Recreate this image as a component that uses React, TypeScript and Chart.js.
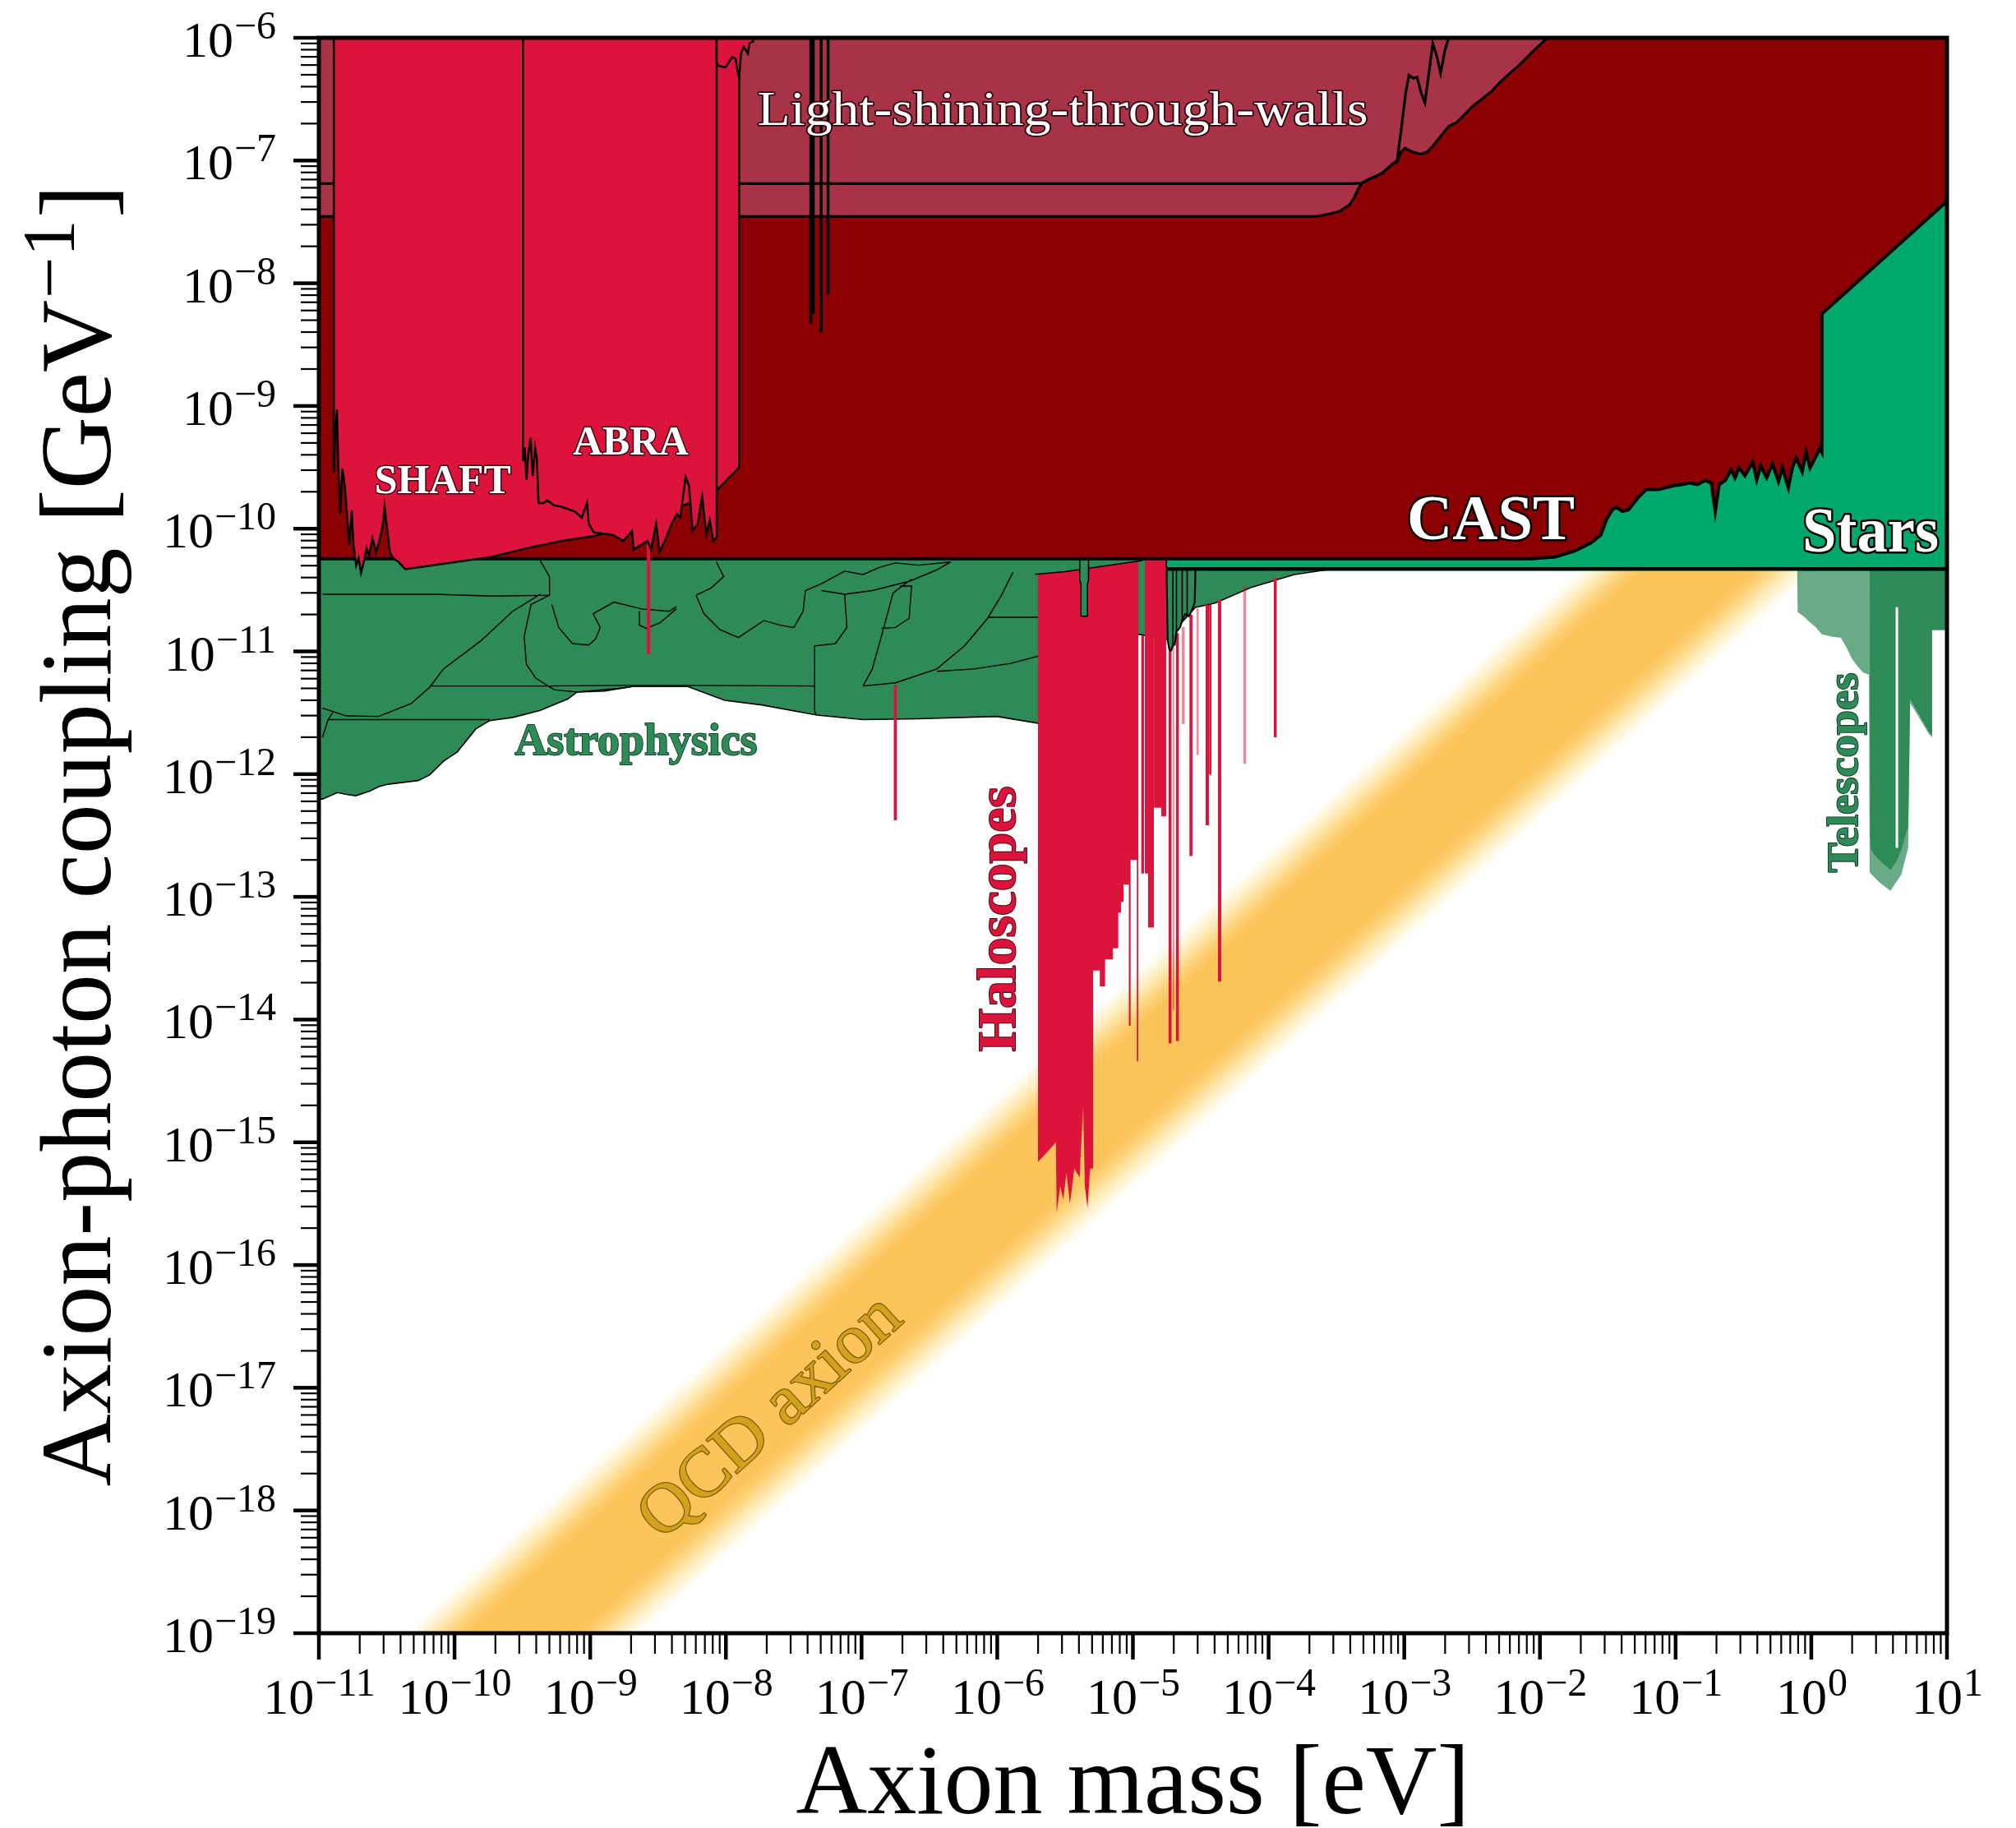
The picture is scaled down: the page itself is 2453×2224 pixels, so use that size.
import { useEffect, useRef } from 'react';
import { Chart, registerables } from 'chart.js';

Chart.register(...registerables);

type Pt = [number, number]; // [log10(mass / eV), log10(coupling / GeV^-1)]

const SERIF = '"Liberation Serif", "DejaVu Serif", serif';

// ---------------- axes ----------------
const massDecades = [-11, -10, -9, -8, -7, -6, -5, -4, -3, -2, -1, 0, 1];
const couplingDecades = [-19, -18, -17, -16, -15, -14, -13, -12, -11, -10, -9, -8, -7, -6];
const minorMultipliers = [2, 3, 4, 5, 6, 7, 8, 9];
const xAxisTitle = 'Axion mass [eV]';
const yAxisTitle = 'Axion-photon coupling [GeV';
const yAxisTitleExponent = '\u22121';
const yAxisTitleClose = ']';

// ---------------- QCD axion band (edges, log10 values) ----------------
const qcdUpperEdge: Pt[] = [[-11.5, -20.13], [1.5, -7.13]];
const qcdLowerEdge: Pt[] = [[-11.5, -21.87], [1.5, -8.87]];

// ---------------- Astrophysics (union envelope + internal outlines) ----------------
const astroBoundary: Pt[] = [
  [-11.05, -12.21], [-10.973, -12.203], [-10.864, -12.15], [-10.796, -12.165], [-10.728, -12.176],
  [-10.626, -12.139], [-10.558, -12.101], [-10.49, -12.082], [-10.269, -12.052], [-10.184, -12.007],
  [-10.082, -11.895], [-9.98, -11.819], [-9.844, -11.632], [-9.742, -11.564], [-9.572, -11.538],
  [-9.368, -11.481], [-9.164, -11.387], [-9.097, -11.331], [-8.893, -11.323], [-8.689, -11.286],
  [-8.281, -11.286], [-8.009, -11.398], [-7.737, -11.436], [-7.329, -11.519], [-6.989, -11.556],
  [-6.581, -11.549], [-6.003, -11.53], [-5.701, -11.585], [-5.3, -11.3], [-4.962, -10.86],
  [-4.75, -10.9], [-4.54, -10.642], [-4.394, -10.606], [-4.134, -10.48], [-3.81, -10.373],
  [-3.583, -10.337], [-3.45, -10.33],
];
const astroOutlines: Pt[][] = [
  [[-10.973, -10.534], [-10.15, -10.534], [-9.708, -10.549], [-9.3, -10.542]],
  [[-10.184, -11.282], [-9.3, -11.282], [-8.621, -11.275], [-7.346, -11.282]],
  [[-10.932, -11.556], [-10.32, -11.556], [-9.742, -11.556]],
  [[-10.973, -11.7], [-10.932, -11.556], [-10.9, -11.5]],
  [[-10.973, -11.462], [-10.796, -11.526], [-10.558, -11.53], [-10.32, -11.425], [-10.184, -11.293],
    [-10.082, -11.143], [-9.81, -10.917], [-9.572, -10.673], [-9.368, -10.534]],
  [[-9.368, -10.26], [-9.3, -10.391], [-9.3, -10.542], [-9.436, -10.617], [-9.487, -10.88],
    [-9.47, -11.105], [-9.402, -11.218], [-9.266, -11.312], [-9.097, -11.331], [-8.791, -11.301], [-8.689, -11.286]],
  [[-9.283, -10.617], [-9.232, -10.805], [-9.131, -10.936], [-9.012, -10.948], [-8.961, -10.899],
    [-8.927, -10.805], [-8.978, -10.692], [-8.825, -10.598], [-8.621, -10.654], [-8.417, -10.673], [-8.366, -10.636]],
  [[-8.638, -10.673], [-8.638, -10.786], [-8.587, -10.812], [-8.485, -10.767], [-8.366, -10.654]],
  [[-8.22, -10.542], [-8.162, -10.692], [-8.043, -10.824], [-7.907, -10.887], [-7.72, -10.748],
    [-7.601, -10.786], [-7.499, -10.805], [-7.431, -10.673], [-7.414, -10.504], [-7.295, -10.448]],
  [[-8.07, -10.271], [-8.016, -10.391], [-8.111, -10.485], [-8.22, -10.542]],
  [[-7.295, -10.448], [-7.125, -10.346], [-6.989, -10.373], [-6.87, -10.316], [-6.751, -10.279], [-6.581, -10.297], [-6.343, -10.271]],
  [[-7.295, -10.504], [-7.125, -10.534], [-6.921, -10.504], [-6.649, -10.429], [-6.445, -10.335], [-6.343, -10.271]],
  [[-7.125, -10.534], [-7.108, -10.805], [-7.193, -10.936], [-7.346, -10.955], [-7.346, -11.481], [-7.336, -11.519]],
  [[-6.632, -10.41], [-6.768, -10.523], [-6.836, -10.805], [-6.921, -11.143], [-6.989, -11.282]],
  [[-6.717, -10.467], [-6.632, -10.467], [-6.649, -10.73], [-6.751, -10.805], [-6.853, -10.812]],
  [[-5.884, -10.354], [-5.969, -10.542], [-6.071, -10.73], [-6.241, -10.955], [-6.445, -11.143], [-6.751, -11.256], [-6.989, -11.282]],
  [[-6.071, -10.722], [-5.67, -10.722]],
  [[-5.67, -11.03], [-5.901, -11.098], [-6.173, -11.143], [-6.445, -11.162]],
];

// ---------------- Haloscopes ----------------
const haloMainBoundary: Pt[] = [
  [-5.701, -15.161], [-5.64, -15.09], [-5.595, -15.035], [-5.568, -15.0], [-5.562, -15.573], [-5.536, -15.358],
  [-5.513, -15.466], [-5.49, -15.25], [-5.464, -15.502], [-5.432, -15.215], [-5.393, -15.287], [-5.367, -14.713],
  [-5.354, -15.358], [-5.335, -15.537], [-5.315, -15.215], [-5.293, -15.215], [-5.293, -13.6], [-5.244, -13.6],
  [-5.244, -13.73], [-5.205, -13.73], [-5.205, -13.51], [-5.147, -13.51], [-5.147, -13.42], [-5.108, -13.42],
  [-5.108, -13.13], [-5.088, -13.13], [-5.088, -13.04], [-5.069, -13.04], [-5.069, -12.9], [-5.03, -12.9],
  [-5.03, -14.05], [-5.017, -14.05], [-5.017, -12.7], [-4.971, -12.7], [-4.971, -14.34], [-4.96, -14.34],
];
// [left lm, right lm, bottom lg, top lg, opacity]
const haloBars: [number, number, number, number, number][] = [
  [-4.94, -4.918, -12.81, -10.87, 1],
  [-4.912, -4.888, -12.81, -10.26, 1],
  [-4.888, -4.845, -13.25, -10.26, 1],
  [-4.845, -4.791, -12.274, -10.26, 1],
  [-4.791, -4.755, -12.345, -10.26, 1],
  [-4.738, -4.714, -14.192, -10.9, 1],
  [-4.708, -4.695, -13.924, -10.9, 0.5],
  [-4.683, -4.66, -14.174, -10.85, 1],
  [-4.641, -4.617, -11.592, -10.8, 0.5],
  [-4.584, -4.561, -12.668, -10.7, 1],
  [-4.532, -4.514, -11.843, -10.65, 0.5],
  [-4.465, -4.439, -12.417, -10.62, 1],
  [-4.439, -4.42, -12.005, -10.62, 1],
  [-4.374, -4.349, -13.69, -10.58, 1],
  [-4.188, -4.164, -11.915, -10.47, 0.5],
  [-3.963, -3.939, -11.7, -10.4, 1],
  [-6.764, -6.738, -12.376, -11.275, 1],
];
const haloLateBar: [number, number, number, number, number] = [-8.584, -8.556, -11.023, -9.9, 1];
const shaftBoundary: Pt[] = [
  [-10.89, -5.9], [-10.89, -9.54], [-10.88, -9.23], [-10.867, -9.03], [-10.857, -9.48], [-10.842, -9.88],
  [-10.827, -9.51], [-10.809, -9.65], [-10.791, -9.91], [-10.776, -10.13], [-10.758, -9.85], [-10.745, -10.13],
  [-10.725, -10.3], [-10.707, -10.24], [-10.689, -10.36], [-10.669, -10.27], [-10.648, -10.16], [-10.63, -10.22],
  [-10.605, -10.08], [-10.579, -10.19], [-10.554, -10.1], [-10.528, -9.96], [-10.516, -9.82], [-10.495, -10.02],
  [-10.477, -10.19], [-10.452, -10.24], [-10.414, -10.27], [-10.363, -10.33], [-10.235, -10.31], [-9.98, -10.27],
  [-9.725, -10.23], [-9.47, -10.16], [-9.215, -10.1], [-8.973, -10.06], [-8.45, -9.88], [-8.068, -9.69],
  [-7.991, -9.6], [-7.902, -9.5], [-7.902, -5.9],
];
const abraBoundary: Pt[] = [
  [-9.496, -5.9], [-9.496, -9.45], [-9.483, -9.34], [-9.47, -9.6], [-9.457, -9.4], [-9.44, -9.26], [-9.424, -9.57],
  [-9.406, -9.34], [-9.394, -9.43], [-9.381, -9.79], [-9.343, -9.79], [-9.317, -9.77], [-9.266, -9.81],
  [-9.215, -9.82], [-9.113, -9.86], [-9.062, -9.91], [-9.024, -9.79], [-9.011, -9.96], [-8.973, -10.03],
  [-8.833, -10.05], [-8.756, -10.1], [-8.692, -10.02], [-8.68, -10.17], [-8.578, -10.1], [-8.552, -10.17],
  [-8.514, -9.96], [-8.489, -10.19], [-8.45, -10.1], [-8.399, -9.96], [-8.361, -9.88], [-8.336, -9.91],
  [-8.297, -9.58], [-8.272, -9.65], [-8.246, -10.02], [-8.208, -9.96], [-8.175, -9.74], [-8.144, -10.05],
  [-8.119, -9.93], [-8.093, -10.1], [-8.068, -10.07], [-8.068, -5.9],
];
const topHaloBoundary: Pt[] = [
  [-8.068, -5.9], [-8.068, -6.2], [-8.055, -6.228], [-8.004, -6.242], [-7.953, -6.157], [-7.928, -6.171],
  [-7.915, -6.27], [-7.902, -6.326], [-7.889, -6.129], [-7.869, -6.073], [-7.838, -6.129], [-7.826, -6.045],
  [-7.8, -6.03], [-7.8, -5.9],
];
// [lm, bottom lg] of narrow dips reaching down from the top
const narrowDips: Pt[] = [[-7.374, -8.33], [-7.356, -8.25], [-7.298, -8.4], [-7.247, -8.09]];

// ---------------- green overlays near the haloscopes ----------------
const greenStripBoundary: Pt[] = [[-5.72, -10.372], [-5.5, -10.35], [-5.25, -10.31], [-4.96, -10.265], [-4.93, -10.26]];
const greenSmallFinger: Pt[] = [
  [-5.392, -10.2], [-5.392, -10.42], [-5.383, -10.45], [-5.383, -10.713], [-5.335, -10.713],
  [-5.335, -10.45], [-5.327, -10.42], [-5.327, -10.2],
];
const greenFingerBoundary: Pt[] = [
  [-4.751, -10.2], [-4.751, -10.4], [-4.744, -10.911], [-4.73, -10.99], [-4.718, -10.993], [-4.705, -10.95],
  [-4.692, -10.946], [-4.679, -10.839], [-4.653, -10.803], [-4.637, -10.749], [-4.615, -10.695],
  [-4.588, -10.713], [-4.563, -10.66], [-4.545, -10.6], [-4.54, -10.4], [-4.54, -10.2],
];
const greenFingerLines: Pt[][] = [
  [[-4.705, -10.33], [-4.705, -10.95]],
  [[-4.679, -10.33], [-4.679, -10.84]],
  [[-4.637, -10.33], [-4.637, -10.75]],
  [[-4.6, -10.33], [-4.6, -10.7]],
];

// ---------------- Telescopes ----------------
const telescopeFadeBoundary: Pt[] = [
  [-0.105, -10.3], [-0.105, -10.347], [-0.1, -10.68], [-0.05, -10.72], [-0.023, -10.75], [0.03, -10.8],
  [0.078, -10.86], [0.15, -10.88], [0.219, -10.89], [0.26, -10.97], [0.3, -11.06], [0.34, -11.12],
  [0.381, -11.17], [0.425, -11.19], [0.43, -12.8], [0.5, -12.88], [0.583, -12.95], [0.663, -12.82],
  [0.714, -12.6], [0.722, -11.9], [0.728, -11.42], [0.785, -11.52], [0.865, -11.67], [0.89, -11.7],
  [0.89, -10.826], [1.05, -10.826],
];
const telescopeBoundary: Pt[] = [
  [0.431, -10.3], [0.431, -11.161], [0.436, -12.5], [0.441, -12.62], [0.47, -12.66], [0.502, -12.7],
  [0.54, -12.74], [0.583, -12.78], [0.623, -12.72], [0.663, -12.62], [0.714, -12.42], [0.722, -11.9],
  [0.728, -11.385], [0.785, -11.496], [0.865, -11.653], [0.89, -11.686], [0.89, -10.826], [0.987, -10.826],
  [1.05, -10.826],
];
const telescopeGap: Pt[] = [[0.631, -10.64], [0.631, -12.6]];

// ---------------- Stars, CAST, LSW ----------------
const starsBoundary: Pt[] = [[-4.75, -10.328], [1.05, -10.328]];
const castBoundary: Pt[] = [
  [-11.05, -10.245], [-2.062, -10.245], [-1.887, -10.229], [-1.742, -10.18], [-1.625, -10.116], [-1.552, -10.052],
  [-1.509, -9.923], [-1.465, -9.842], [-1.436, -9.826], [-1.392, -9.859], [-1.348, -9.846], [-1.276, -9.746],
  [-1.217, -9.681], [-1.13, -9.681], [-1.072, -9.665], [-1.014, -9.649], [-0.955, -9.64], [-0.897, -9.627],
  [-0.839, -9.64], [-0.781, -9.607], [-0.737, -9.627], [-0.708, -9.859], [-0.679, -9.64], [-0.635, -9.607],
  [-0.591, -9.52], [-0.562, -9.585], [-0.533, -9.504], [-0.489, -9.569], [-0.431, -9.456], [-0.402, -9.601],
  [-0.373, -9.488], [-0.329, -9.585], [-0.286, -9.472], [-0.242, -9.617], [-0.213, -9.504], [-0.169, -9.665],
  [-0.14, -9.504], [-0.111, -9.424], [-0.067, -9.536], [-0.038, -9.376], [-0.009, -9.504], [0.035, -9.408],
  [0.064, -9.344], [0.078, -9.376], [0.078, -8.249], [1.05, -7.281],
];
const lswBoundary: Pt[] = [
  [-11.05, -7.456], [-3.646, -7.456], [-3.542, -7.433], [-3.472, -7.411], [-3.403, -7.36], [-3.368, -7.3],
  [-3.34, -7.233], [-3.316, -7.19], [-3.264, -7.154], [-3.194, -7.121], [-3.159, -7.099], [-3.09, -7.032],
  [-3.052, -7.012], [-3.023, -6.93], [-2.994, -6.899], [-2.94, -6.93], [-2.877, -6.948], [-2.83, -6.93],
  [-2.79, -6.883], [-2.73, -6.8], [-2.673, -6.722], [-2.615, -6.69], [-2.56, -6.63], [-2.499, -6.561],
  [-2.43, -6.5], [-2.353, -6.433], [-2.3, -6.37], [-2.237, -6.304], [-2.15, -6.22], [-2.06, -6.12],
  [-1.945, -6.0], [-1.9, -5.95],
];
const alpsLine: Pt[] = [
  [-11.05, -7.188], [-3.4, -7.188], [-3.316, -7.185], [-3.264, -7.154], [-3.194, -7.121], [-3.159, -7.099],
  [-3.09, -7.032], [-3.052, -7.0], [-3.035, -6.85], [-3.023, -6.754], [-2.99, -6.45], [-2.965, -6.304],
  [-2.935, -6.33], [-2.906, -6.32], [-2.875, -6.45], [-2.848, -6.529], [-2.82, -6.3], [-2.79, -6.046],
  [-2.76, -6.15], [-2.732, -6.288], [-2.7, -6.1], [-2.673, -6.0], [-2.66, -5.95],
];

// ---------------- labels ----------------
const regionLabels = [
  { text: 'Light-shining-through-walls', at: [-5.518, -6.576], size: 60, weight: 'normal', width: 743, fill: '#ffffff', stroke: '#2b0a12', sw: 3.5, rot: 0 },
  { text: 'SHAFT', at: [-10.087, -9.597], size: 50, weight: 'bold', width: 166, fill: '#ffffff', stroke: '#3a0a14', sw: 3, rot: 0 },
  { text: 'ABRA', at: [-8.701, -9.288], size: 50, weight: 'bold', width: 141, fill: '#ffffff', stroke: '#3a0a14', sw: 3, rot: 0 },
  { text: 'CAST', at: [-2.362, -9.911], size: 78, weight: 'bold', width: 204, fill: '#ffffff', stroke: '#000000', sw: 5, rot: 0 },
  { text: 'Stars', at: [0.437, -10.012], size: 78, weight: 'bold', width: 166, fill: '#ffffff', stroke: '#000000', sw: 5, rot: 0 },
  { text: 'Astrophysics', at: [-8.662, -11.716], size: 55, weight: 'bold', width: 295, fill: '#2E8B57', stroke: '#17452b', sw: 2, rot: 0 },
  { text: 'Haloscopes', at: [-6.002, -13.18], size: 66, weight: 'bold', width: 323, fill: '#DC143C', stroke: '#4a0612', sw: 2, rot: -90 },
  { text: 'Telescopes', at: [0.234, -11.988], size: 52, weight: 'bold', width: 243, fill: '#2E8B57', stroke: '#17452b', sw: 2, rot: -90 },
  { text: 'QCD axion', at: [-7.69, -17.218], size: 84, weight: 'normal', width: 399, fill: '#D3A11E', stroke: '#7d5c08', sw: 2.5, rot: 'band' },
];

// ---------------- colours ----------------
const C_CAST = '#8B0000';
const C_LSW = 'rgb(168,51,71)';
const C_CRIMSON = '#DC143C';
const C_ASTRO = '#2E8B57';
const C_STARS = '#00A86B';
const qcdFade: [number, string][] = [
  [0.0, 'rgb(253,196,92)'],
  [0.4, 'rgb(253,196,92)'],
  [0.5, 'rgb(253,206,112)'],
  [0.6, 'rgb(254,222,150)'],
  [0.7, 'rgb(255,238,192)'],
  [0.8, 'rgb(255,249,228)'],
  [0.87, 'rgb(255,255,255)'],
];

// ---------------- helpers ----------------
const xy = (pts: Pt[]) => pts.map(([a, b]) => ({ x: 10 ** a, y: 10 ** b }));
const gapped = (lines: Pt[][]) => {
  const out: any[] = [];
  lines.forEach((l) => {
    out.push(...xy(l));
    out.push({ x: 10 ** l[l.length - 1][0], y: null });
  });
  return out;
};

function qcdGradient(chart: any) {
  const { chartArea, scales } = chart;
  if (!chartArea || !scales.x || !scales.y) return qcdFade[0][1];
  const xs = scales.x;
  const ys = scales.y;
  const kUp = qcdUpperEdge[0][1] - qcdUpperEdge[0][0];
  const kLo = qcdLowerEdge[0][1] - qcdLowerEdge[0][0];
  const half = (kUp - kLo) / 2;
  const lg0 = -15;
  const x1 = xs.getPixelForValue(10 ** (lg0 - kUp));
  const x2 = xs.getPixelForValue(10 ** (lg0 - kLo));
  const y0 = ys.getPixelForValue(10 ** lg0);
  const dx = xs.getPixelForValue(10) - xs.getPixelForValue(1);
  const dy = ys.getPixelForValue(1e-6) - ys.getPixelForValue(1e-7);
  const len = Math.hypot(dx, dy);
  const nx = -dy / len;
  const ny = dx / len;
  const t = (x2 - x1) * nx;
  const g = chart.ctx.createLinearGradient(x1, y0, x1 + nx * t, y0 + ny * t);
  const stops: [number, string][] = [];
  qcdFade.forEach(([d, c]) => {
    stops.push([(half - d) / (2 * half), c]);
    stops.push([(half + d) / (2 * half), c]);
  });
  stops
    .filter(([f]) => f >= 0 && f <= 1)
    .sort((a, b) => a[0] - b[0])
    .forEach(([f, c]) => g.addColorStop(f, c));
  return g;
}

function buildDatasets() {
  const layers: any[] = [];
  const add = (ds: any) =>
    layers.push({
      pointRadius: 0,
      pointHoverRadius: 0,
      tension: 0,
      spanGaps: false,
      borderWidth: 0,
      borderColor: 'rgba(0,0,0,0)',
      backgroundColor: 'rgba(0,0,0,0)',
      fill: false,
      ...ds,
    });
  const bar = (b: [number, number, number, number, number]) =>
    add({
      data: xy([[b[0], b[2]], [b[1], b[2]]]),
      fill: { value: 10 ** b[3] },
      backgroundColor: `rgba(220,20,60,${b[4]})`,
    });

  // QCD band (dataset 0 fills to dataset 1)
  add({ data: xy(qcdLowerEdge), fill: '+1', backgroundColor: (ctx: any) => qcdGradient(ctx.chart) });
  add({ data: xy(qcdUpperEdge) });
  // Astrophysics
  add({ data: xy(astroBoundary), fill: 'end', backgroundColor: C_ASTRO, borderColor: '#000', borderWidth: 1.6 });
  add({ data: gapped(astroOutlines), borderColor: '#000', borderWidth: 1.4 });
  // Haloscopes
  add({ data: xy(haloMainBoundary), fill: 'end', backgroundColor: C_CRIMSON });
  haloBars.forEach(bar);
  // green overlays
  add({ data: xy(greenStripBoundary), fill: 'end', backgroundColor: C_ASTRO, borderColor: '#000', borderWidth: 1.4 });
  add({ data: xy(greenSmallFinger), fill: 'end', backgroundColor: C_ASTRO, borderColor: '#000', borderWidth: 1.6 });
  add({ data: xy(greenFingerBoundary), fill: 'end', backgroundColor: C_ASTRO, borderColor: '#000', borderWidth: 2.2 });
  add({ data: gapped(greenFingerLines), borderColor: '#000', borderWidth: 1.6 });
  // Telescopes (streaky faded part, then solid part)
  add({ data: xy(telescopeFadeBoundary), fill: 'end', backgroundColor: 'rgba(46,139,87,0.72)' });
  add({ data: xy(telescopeBoundary), fill: 'end', backgroundColor: C_ASTRO });
  add({ data: xy(telescopeGap), borderColor: '#ffffff', borderWidth: 3 });
  // Stars
  add({ data: xy(starsBoundary), fill: 'end', backgroundColor: C_STARS, borderColor: '#000', borderWidth: 4.5 });
  // CAST
  add({ data: xy(castBoundary), fill: 'end', backgroundColor: C_CAST, borderColor: '#000', borderWidth: 4 });
  // Light-shining-through-walls
  add({ data: xy(lswBoundary), fill: 'end', backgroundColor: C_LSW, borderColor: '#000', borderWidth: 3.2 });
  add({ data: xy(alpsLine), borderColor: '#000', borderWidth: 3.2 });
  // haloscope line drawn over CAST
  bar(haloLateBar);
  // SHAFT, ABRA and other low-mass haloscopes
  add({ data: xy(shaftBoundary), fill: 'end', backgroundColor: C_CRIMSON, borderColor: '#000', borderWidth: 2.5 });
  add({ data: xy(abraBoundary), fill: 'end', backgroundColor: C_CRIMSON, borderColor: '#000', borderWidth: 2.5 });
  add({ data: xy(topHaloBoundary), fill: 'end', backgroundColor: C_CRIMSON, borderColor: '#000', borderWidth: 2.5 });
  add({ data: gapped(narrowDips.map(([m, b]) => [[m, -5.9], [m, b]] as Pt[])), borderColor: '#000', borderWidth: 3.5 });

  return layers.map((d, i) => ({ ...d, order: -i }));
}

function drawText(ctx: CanvasRenderingContext2D, text: string, x: number, y: number, o: any) {
  ctx.save();
  ctx.translate(x, y);
  if (o.angle) ctx.rotate(o.angle);
  ctx.font = `${o.weight} ${o.size}px ${SERIF}`;
  const w = ctx.measureText(text).width;
  const sx = o.width ? o.width / w : 1;
  ctx.scale(sx, 1);
  ctx.textAlign = 'center';
  ctx.textBaseline = 'alphabetic';
  const base = o.size * 0.33;
  if (o.stroke) {
    ctx.lineJoin = 'round';
    ctx.lineWidth = o.sw;
    ctx.strokeStyle = o.stroke;
    ctx.strokeText(text, 0, base);
  }
  ctx.fillStyle = o.fill;
  ctx.fillText(text, 0, base);
  ctx.restore();
}

function powerLabel(ctx: CanvasRenderingContext2D, exp: number, x: number, baseY: number, align: 'right' | 'center') {
  const es = exp < 0 ? '\u2212' + Math.abs(exp) : String(exp);
  ctx.font = `62px ${SERIF}`;
  const wb = ctx.measureText('10').width;
  ctx.font = `48px ${SERIF}`;
  const we = ctx.measureText(es).width;
  const total = wb + we;
  const x0 = align === 'right' ? x - total : x - total / 2;
  ctx.textAlign = 'left';
  ctx.textBaseline = 'alphabetic';
  ctx.fillStyle = '#000';
  ctx.font = `62px ${SERIF}`;
  ctx.fillText('10', x0, baseY);
  ctx.font = `48px ${SERIF}`;
  ctx.fillText(es, x0 + wb + 1, baseY - 22);
}

const decorPlugin = {
  id: 'decor',
  afterDatasetsDraw(chart: any) {
    const { ctx, scales } = chart;
    const xs = scales.x;
    const ys = scales.y;
    const bandAngle = Math.atan2(
      ys.getPixelForValue(1e-6) - ys.getPixelForValue(1e-7),
      xs.getPixelForValue(10) - xs.getPixelForValue(1)
    );
    regionLabels.forEach((l) => {
      const px = xs.getPixelForValue(10 ** l.at[0]);
      const py = ys.getPixelForValue(10 ** l.at[1]);
      const angle = l.rot === 'band' ? bandAngle : ((l.rot as number) * Math.PI) / 180;
      drawText(ctx, l.text, px, py, { ...l, angle });
    });
  },
  afterDraw(chart: any) {
    const { ctx, chartArea: a, scales } = chart;
    const xs = scales.x;
    const ys = scales.y;
    ctx.save();
    ctx.strokeStyle = '#000';
    ctx.lineCap = 'butt';
    const seg = (x1: number, y1: number, x2: number, y2: number, w: number) => {
      ctx.lineWidth = w;
      ctx.beginPath();
      ctx.moveTo(x1, y1);
      ctx.lineTo(x2, y2);
      ctx.stroke();
    };
    couplingDecades.forEach((e) => {
      const p = ys.getPixelForValue(10 ** e);
      seg(a.left - 31, p, a.left, p, 4.5);
      if (e < -6) {
        minorMultipliers.forEach((k) => {
          const q = ys.getPixelForValue(k * 10 ** e);
          seg(a.left - 22, q, a.left, q, 2.2);
        });
      }
      powerLabel(ctx, e, a.left - 53, p + 23, 'right');
    });
    massDecades.forEach((e) => {
      const p = xs.getPixelForValue(10 ** e);
      seg(p, a.bottom, p, a.bottom + 32, 4.5);
      if (e < 1) {
        minorMultipliers.forEach((k) => {
          const q = xs.getPixelForValue(k * 10 ** e);
          seg(q, a.bottom, q, a.bottom + 25, 2.2);
        });
      }
      powerLabel(ctx, e, p, a.bottom + 98, 'center');
    });
    ctx.lineWidth = 5;
    ctx.strokeRect(a.left, a.top, a.right - a.left, a.bottom - a.top);

    ctx.fillStyle = '#000';
    ctx.textBaseline = 'alphabetic';
    ctx.textAlign = 'center';
    ctx.font = `120px ${SERIF}`;
    ctx.fillText(xAxisTitle, (a.left + a.right) / 2, a.bottom + 219);

    ctx.save();
    ctx.translate(134, (a.top + a.bottom) / 2);
    ctx.rotate(-Math.PI / 2);
    ctx.font = `122px ${SERIF}`;
    const w1 = ctx.measureText(yAxisTitle).width;
    const w3 = ctx.measureText(yAxisTitleClose).width;
    ctx.font = `90px ${SERIF}`;
    const w2 = ctx.measureText(yAxisTitleExponent).width;
    const tot = w1 + w2 + w3 + 4;
    let cx = -tot / 2;
    ctx.textAlign = 'left';
    ctx.font = `122px ${SERIF}`;
    ctx.fillText(yAxisTitle, cx, 0);
    cx += w1 + 2;
    ctx.font = `90px ${SERIF}`;
    ctx.fillText(yAxisTitleExponent, cx, -44);
    cx += w2 + 2;
    ctx.font = `122px ${SERIF}`;
    ctx.fillText(yAxisTitleClose, cx, 0);
    ctx.restore();

    ctx.restore();
  },
};

export default function App() {
  const ref = useRef<HTMLCanvasElement>(null);
  useEffect(() => {
    if (!ref.current) return;
    const chart = new Chart(ref.current, {
      type: 'line',
      data: { datasets: buildDatasets() },
      options: {
        animation: false,
        responsive: false,
        maintainAspectRatio: false,
        devicePixelRatio: 1,
        events: [],
        layout: { padding: { left: 388, top: 46, right: 84, bottom: 237 } },
        scales: {
          x: { type: 'logarithmic', min: 1e-11, max: 10, display: false },
          y: { type: 'logarithmic', min: 1e-19, max: 1e-6, display: false },
        },
        plugins: {
          legend: { display: false },
          tooltip: { enabled: false },
          filler: { propagate: false },
        },
        elements: { point: { radius: 0 }, line: { tension: 0 } },
      } as any,
      plugins: [decorPlugin],
    });
    return () => chart.destroy();
  }, []);
  return (
    <div style={{ position: 'absolute', left: 0, top: 0, width: 2453, height: 2224, background: '#ffffff' }}>
      <canvas ref={ref} width={2453} height={2224} style={{ display: 'block', width: 2453, height: 2224 }} />
    </div>
  );
}
